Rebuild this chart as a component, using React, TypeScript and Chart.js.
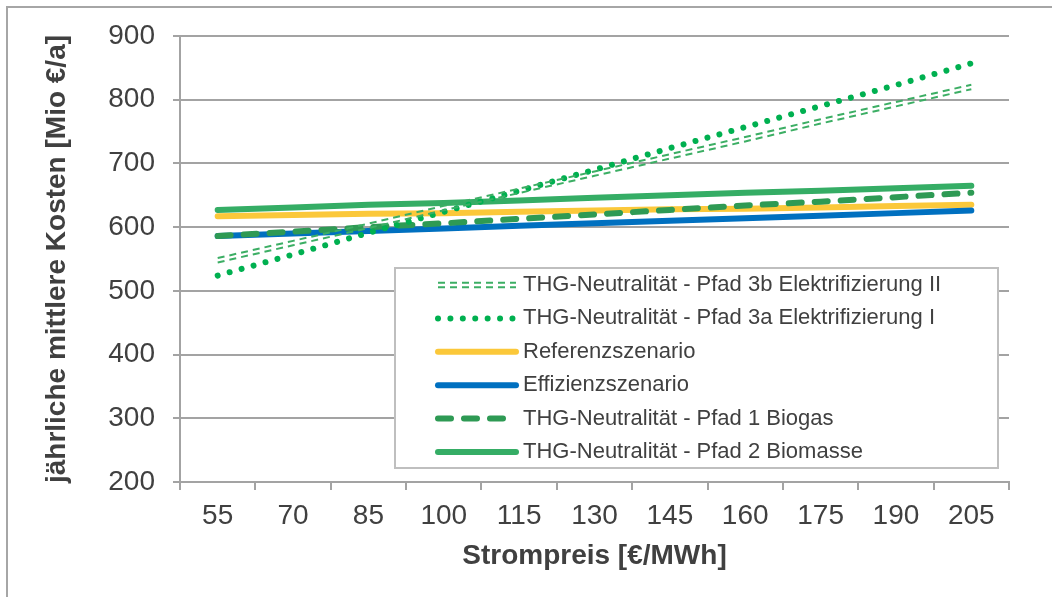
import React, { useEffect, useRef } from 'react';
import { Chart, registerables } from 'chart.js';

Chart.register(...registerables);

// ---- data ----
const categories = ['55', '70', '85', '100', '115', '130', '145', '160', '175', '190', '205'];
const pfad3b = [548, 575, 602, 630, 657, 684, 711, 738, 766, 793, 820];
const pfad3a = [524, 557, 591, 624, 657, 690, 724, 757, 790, 823, 857];
const referenz = [617, 619, 621, 622, 624, 626, 628, 629, 631, 633, 635];
const effizienz = [586, 590, 594, 598, 602, 606, 610, 614, 618, 622, 626];
const biogas = [586, 593, 600, 606, 613, 620, 627, 634, 640, 647, 654];
const biomasse = [627, 631, 635, 638, 642, 646, 650, 654, 657, 661, 665];
const yMin = 200;
const yMax = 900;
const yStep = 100;

const seriesLabels = [
  'THG-Neutralität - Pfad 3b Elektrifizierung II',
  'THG-Neutralität - Pfad 3a Elektrifizierung I',
  'Referenzszenario',
  'Effizienzszenario',
  'THG-Neutralität - Pfad 1 Biogas',
  'THG-Neutralität - Pfad 2 Biomasse',
];

const FONT = "'Liberation Sans', Arial, sans-serif";
const TEXT = '#404040';
const GRID = '#a3a3a3';

function strokeDouble(ctx: CanvasRenderingContext2D, pts: { x: number; y: number }[], color: string) {
  ctx.save();
  ctx.strokeStyle = color;
  ctx.lineWidth = 2;
  ctx.setLineDash([7, 5]);
  ctx.lineCap = 'butt';
  for (const off of [-2.2, 2.2]) {
    ctx.beginPath();
    pts.forEach((p, i) => {
      if (i === 0) ctx.moveTo(p.x, p.y + off);
      else ctx.lineTo(p.x, p.y + off);
    });
    ctx.stroke();
  }
  ctx.restore();
}

const doubleLinePlugin = {
  id: 'doubleLine',
  beforeDatasetDraw(chart: any, args: any) {
    const ds = chart.data.datasets[args.index];
    if (!ds.doubleLine) return;
    const pts = args.meta.data.map((e: any) => ({ x: e.x, y: e.y }));
    strokeDouble(chart.ctx, pts, ds.borderColor);
    return false;
  },
};

const boxLegendPlugin = {
  id: 'boxLegend',
  afterDraw(chart: any) {
    const ctx: CanvasRenderingContext2D = chart.ctx;
    const left = 395, top = 268, right = 998, bottom = 468;
    ctx.save();
    ctx.fillStyle = '#ffffff';
    ctx.fillRect(left, top, right - left, bottom - top);
    ctx.strokeStyle = '#bfbfbf';
    ctx.lineWidth = 2;
    ctx.strokeRect(left, top, right - left, bottom - top);
    const x1 = 438, x2 = 516, tx = 523;
    chart.data.datasets.forEach((ds: any, i: number) => {
      const y = 285 + i * 33.4;
      if (ds.doubleLine) {
        strokeDouble(ctx, [{ x: x1, y }, { x: x2, y }], ds.borderColor);
      } else {
        ctx.save();
        ctx.strokeStyle = ds.borderColor;
        ctx.lineWidth = ds.borderWidth;
        ctx.lineCap = ds.borderCapStyle || 'butt';
        ctx.setLineDash(ds.borderDash || []);
        ctx.beginPath();
        ctx.moveTo(x1, y);
        ctx.lineTo(x2, y);
        ctx.stroke();
        ctx.restore();
      }
      ctx.fillStyle = TEXT;
      ctx.font = `22px ${FONT}`;
      ctx.textAlign = 'left';
      ctx.textBaseline = 'middle';
      ctx.fillText(ds.label, tx, y);
    });
    ctx.restore();
  },
};

export default function App() {
  const canvasRef = useRef<HTMLCanvasElement | null>(null);

  useEffect(() => {
    if (!canvasRef.current) return;
    Chart.defaults.font.family = FONT;
    const chart = new Chart(canvasRef.current, {
      type: 'line',
      data: {
        labels: categories,
        datasets: [
          {
            label: seriesLabels[0],
            data: pfad3b,
            borderColor: '#3cae64',
            borderWidth: 2,
            doubleLine: true,
            order: 0,
          } as any,
          {
            label: seriesLabels[1],
            data: pfad3a,
            borderColor: '#00b050',
            borderWidth: 6,
            borderDash: [0.01, 12.4],
            borderCapStyle: 'round',
            order: 1,
          },
          {
            label: seriesLabels[2],
            data: referenz,
            borderColor: '#fbc83a',
            borderWidth: 6,
            borderCapStyle: 'round',
            order: 5,
          },
          {
            label: seriesLabels[3],
            data: effizienz,
            borderColor: '#0070c0',
            borderWidth: 6,
            borderCapStyle: 'round',
            order: 4,
          },
          {
            label: seriesLabels[4],
            data: biogas,
            borderColor: '#2e9a54',
            borderWidth: 6,
            borderDash: [13, 13],
            borderCapStyle: 'round',
            order: 3,
          },
          {
            label: seriesLabels[5],
            data: biomasse,
            borderColor: '#35ad65',
            borderWidth: 6,
            borderCapStyle: 'round',
            order: 2,
          },
        ],
      },
      options: {
        animation: false,
        responsive: false,
        maintainAspectRatio: false,
        layout: { padding: { left: 0, top: 36, right: 43, bottom: 0 } },
        elements: { point: { radius: 0, hoverRadius: 0 }, line: { tension: 0 } },
        plugins: { legend: { display: false }, tooltip: { enabled: false } },
        scales: {
          x: {
            type: 'category',
            offset: true,
            grid: {
              display: true,
              drawOnChartArea: false,
              drawTicks: true,
              tickLength: 8,
              offset: true,
              color: GRID,
              lineWidth: 2,
            },
            border: { display: true, color: GRID, width: 2 },
            ticks: {
              color: TEXT,
              font: { size: 28, family: FONT },
              padding: 9,
              maxRotation: 0,
              autoSkip: false,
            },
            title: {
              display: true,
              text: 'Strompreis [€/MWh]',
              color: TEXT,
              font: { size: 28, weight: 'bold', family: FONT },
              padding: { top: 0, bottom: 24 },
            },
            afterFit: (s: any) => {
              s.height = 115;
              s.paddingLeft = 0;
              s.paddingRight = 0;
            },
          },
          y: {
            min: yMin,
            max: yMax,
            ticks: {
              stepSize: yStep,
              color: TEXT,
              font: { size: 28, family: FONT },
              padding: 18,
            },
            grid: { color: GRID, lineWidth: 2, tickLength: 7, drawTicks: true },
            border: { display: true, color: GRID, width: 2 },
            title: {
              display: true,
              text: 'jährliche mittlere Kosten [Mio €/a]',
              color: TEXT,
              font: { size: 28, weight: 'bold', family: FONT },
              padding: { top: 40, bottom: 0 },
            },
            afterFit: (s: any) => {
              s.width = 180;
              s.paddingTop = 0;
              s.paddingBottom = 0;
            },
          },
        },
      } as any,
      plugins: [doubleLinePlugin, boxLegendPlugin],
    });
    return () => chart.destroy();
  }, []);

  return (
    <div
      style={{
        position: 'fixed',
        left: 0,
        top: 0,
        width: 1052,
        height: 597,
        background: '#ffffff',
        overflow: 'hidden',
      }}
    >
      <div
        style={{
          position: 'absolute',
          left: 6,
          top: 6,
          width: 1100,
          height: 700,
          border: '2px solid #a6a6a6',
          boxSizing: 'border-box',
        }}
      />
      <canvas
        ref={canvasRef}
        width={1052}
        height={597}
        style={{ position: 'absolute', left: 0, top: 0, width: 1052, height: 597 }}
      />
    </div>
  );
}
